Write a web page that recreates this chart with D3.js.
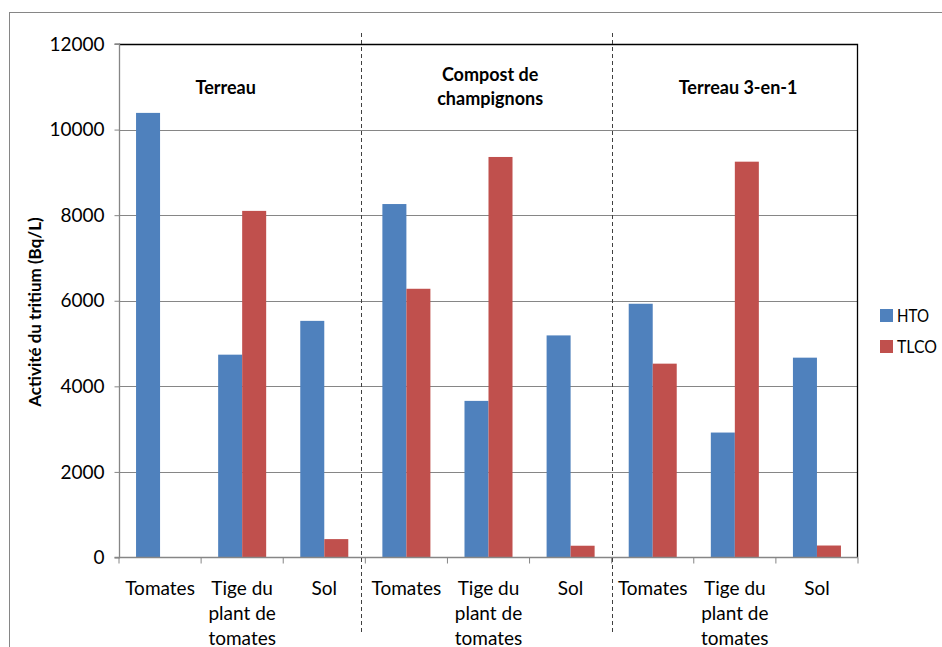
<!DOCTYPE html>
<html><head><meta charset="utf-8">
<script src="https://cdn.jsdelivr.net/npm/d3@7"></script>
<style>
html,body{margin:0;padding:0;background:#fff;}
svg{display:block;font-family:Lato,"Open Sans",sans-serif;}
</style></head>
<body>
<svg id="chart" width="942" height="647"></svg>
<script>
const categories = ["Tomates", "Tige du\nplant de\ntomates", "Sol",
                    "Tomates", "Tige du\nplant de\ntomates", "Sol",
                    "Tomates", "Tige du\nplant de\ntomates", "Sol"];
const groups = ["Terreau", "Compost de\nchampignons", "Terreau 3-en-1"];
const seriesNames = ["HTO", "TLCO"];
const htoValues = [10390, 4740, 5530, 8260, 3660, 5190, 5930, 2920, 4670];
const tlcoValues = [0, 8100, 430, 6280, 9360, 275, 4530, 9250, 280];
const yTicks = [0, 2000, 4000, 6000, 8000, 10000, 12000];
const yTitle = "Activité du tritium (Bq/L)";
const colors = ["#4F81BD", "#C0504D"];

const svg = d3.select("#chart");
const L = 119, R = 858, T = 44, B = 557.5;
const idx = d3.range(categories.length);
const x = d3.scaleBand().domain(idx).range([L, R]).paddingInner(0).paddingOuter(0);
const xs = d3.scaleBand().domain(seriesNames).range([0, x.bandwidth()]).paddingInner(0).paddingOuter(0.71);
const y = d3.scaleLinear().domain([0, 12000]).range([B, T]);
const step = x.step();

// outer chart border
svg.append("rect").attr("x", 9.5).attr("y", 12.5).attr("width", 1000).attr("height", 1000)
  .attr("fill", "none").attr("stroke", "#868686").attr("stroke-width", 1);

// gridlines
svg.append("g").selectAll("line").data(yTicks.filter(d => d > 0 && d < 12000)).join("line")
  .attr("x1", L).attr("x2", R).attr("y1", d => Math.round(y(d)) + 0.5).attr("y2", d => Math.round(y(d)) + 0.5)
  .attr("stroke", "#868686").attr("stroke-width", 1);

// plot area border top/right
svg.append("path").attr("d", `M${L},${T + 0.5}H${R - 0.5}V${B}`)
  .attr("fill", "none").attr("stroke", "#000").attr("stroke-width", 1.3);

// bars
const seriesData = [htoValues, tlcoValues];
seriesNames.forEach((s, si) => {
  svg.append("g").selectAll("rect").data(seriesData[si]).join("rect")
    .attr("x", (d, i) => x(i) + xs(s))
    .attr("width", xs.bandwidth())
    .attr("y", d => y(d))
    .attr("height", d => y(0) - y(d))
    .attr("fill", colors[si]);
});

// y axis
const yAxis = d3.axisLeft(y).tickValues(yTicks).tickSize(5).tickPadding(10).tickFormat(d3.format("d"));
const ga = svg.append("g").attr("transform", `translate(${L + 0.5},0)`).call(yAxis);
ga.select(".domain").attr("stroke", "#868686").attr("stroke-width", 1.3).attr("d", `M-5,${B}H0V${T}H-5`);
ga.selectAll(".tick line").attr("stroke", "#868686");
ga.selectAll(".tick text").attr("font-size", 19).attr("fill", "#000").attr("font-family", "Lato, sans-serif");

// x axis
const xAxisG = svg.append("g").attr("transform", `translate(0,${B})`);
xAxisG.append("line").attr("x1", L).attr("x2", R).attr("y1", 0).attr("y2", 0)
  .attr("stroke", "#868686").attr("stroke-width", 1.3);
xAxisG.selectAll("line.tk").data(d3.range(categories.length + 1)).join("line").attr("class", "tk")
  .attr("x1", i => L + i * step).attr("x2", i => L + i * step).attr("y1", 0).attr("y2", 6)
  .attr("stroke", "#868686");
xAxisG.selectAll("text").data(categories).join("text")
  .attr("x", (d, i) => x(i) + step / 2).attr("y", 37)
  .attr("text-anchor", "middle").attr("font-size", 19).attr("fill", "#000")
  .each(function(d) {
    const lines = d.split("\n");
    d3.select(this).selectAll("tspan").data(lines).join("tspan")
      .attr("x", d3.select(this).attr("x")).attr("dy", (l, k) => k === 0 ? 0 : 25).text(l => l);
  });

// dashed separators
const sepK = [2.95, 6.0];
svg.append("g").selectAll("line").data(sepK).join("line")
  .attr("x1", k => Math.round(L + k * step) + 0.5).attr("x2", k => Math.round(L + k * step) + 0.5)
  .attr("y1", 33).attr("y2", 633)
  .attr("stroke", "#404040").attr("stroke-width", 1).attr("stroke-dasharray", "4,3");

// group titles
const groupK = [1.30, 4.52, 7.54];
svg.append("g").selectAll("text").data(groups).join("text")
  .attr("text-anchor", "middle").attr("font-size", 18).attr("font-weight", "bold").attr("fill", "#000")
  .attr("x", (d, i) => L + groupK[i] * step)
  .attr("y", d => d.includes("\n") ? 81 : 94)
  .each(function(d) {
    const xx = d3.select(this).attr("x");
    d3.select(this).selectAll("tspan").data(d.split("\n")).join("tspan")
      .attr("x", xx).attr("dy", (l, k) => k === 0 ? 0 : 24).text(l => l);
  });

// y title
svg.append("text").attr("transform", `translate(41,312) rotate(-90)`)
  .attr("text-anchor", "middle").attr("font-size", 17).attr("font-weight", "bold").attr("fill", "#000")
  .text(yTitle);

// legend
const lg = svg.append("g");
seriesNames.forEach((s, i) => {
  lg.append("rect").attr("x", 880).attr("y", 309 + i * 31).attr("width", 13).attr("height", 13).attr("fill", colors[i]);
  lg.append("text").attr("x", 897).attr("y", 322 + i * 31).attr("font-size", 18).attr("fill", "#000")
    .attr("textLength", i === 0 ? 32 : 40).attr("lengthAdjust", "spacingAndGlyphs").text(s);
});
</script>
</body></html>
